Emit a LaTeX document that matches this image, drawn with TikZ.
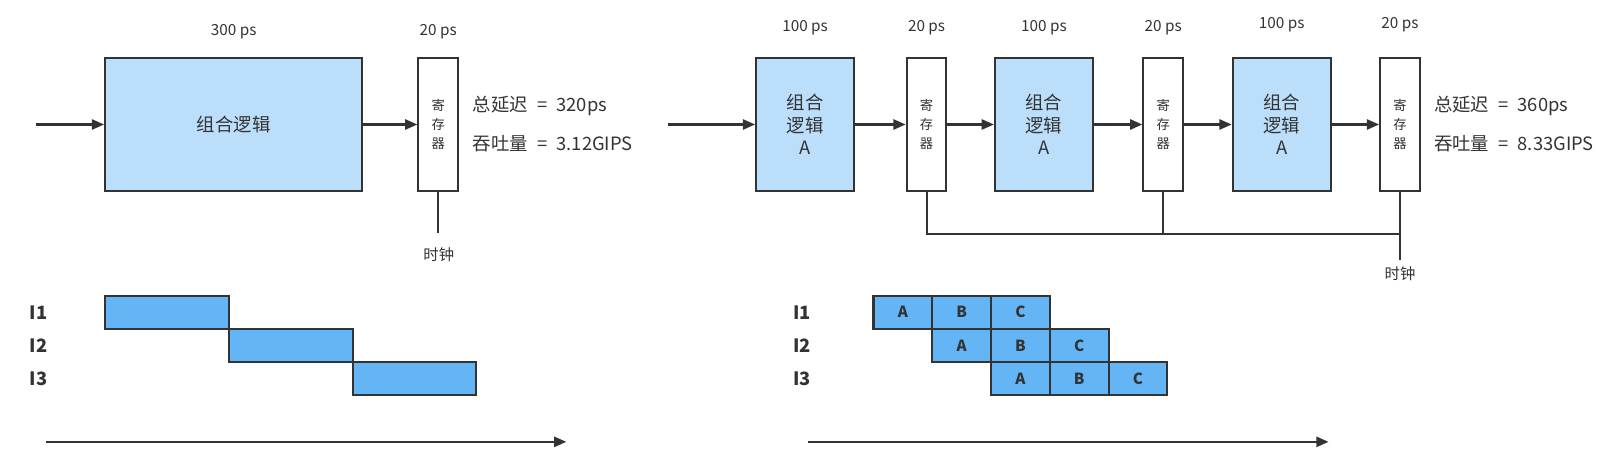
\documentclass[tikz,border=0pt]{standalone}
\usepackage{fontspec}
\setmainfont{Noto Sans CJK SC}
\usetikzlibrary{positioning, arrows.meta, calc}
\definecolor{linegray}{HTML}{333333}
\definecolor{logicblue}{HTML}{BBDEFB}
\definecolor{stageblue}{HTML}{64B5F6}
\tikzset{
  logic/.style={draw=linegray, fill=logicblue, line width=1pt, inner sep=0pt,
                minimum height=65pt, align=center, text=linegray,
                font=\fontsize{9}{11}\selectfont},
  reg/.style={draw=linegray, fill=white, line width=1pt, inner sep=0pt,
              minimum width=19.5pt, minimum height=65pt, align=center, text=linegray,
              font=\fontsize{6.5}{9.25}\selectfont},
  flow/.style={draw=linegray, line width=1pt, -{Triangle[length=6pt, width=5pt]}},
  wire/.style={draw=linegray, line width=1pt},
  lbl/.style={font=\fontsize{7.5}{8}\selectfont, text=linegray},
  stat/.style={font=\fontsize{9}{10}\selectfont, text=linegray, anchor=west, inner xsep=0pt},
  instr/.style={font=\bfseries\fontsize{9}{10}\selectfont, text=linegray},
  stage/.style={draw=linegray, fill=stageblue, line width=1pt, inner sep=0pt,
                minimum height=16.25pt, text=linegray,
                font=\bfseries\fontsize{7.5}{9}\selectfont},
}

\begin{document}
\begin{tikzpicture}[x=0.5pt, y=-0.5pt]
    \useasboundingbox (0,0) rectangle (1568,457);

    % single cycle
    \coordinate (in1) at (35,122);
    \node[logic, minimum width=126pt] (logic) at (229,122) {组合逻辑};
    \node[reg] (reg) at (429.5,122) {寄\\存\\器};
    \draw[flow] (in1) -- (logic);
    \draw[flow] (logic) -- (reg);
    \node[lbl] (tlogic) at (229,31) {300 ps};
    \node[lbl] (treg) at (429.5,31) {20 ps};
    \coordinate (clk) at (429.5,228);
    \draw[wire] (reg.south) -- (clk);
    \node[lbl] (clklbl) at (430,250) {时钟};
    \node[stat] (delay) at (463,104) {总延迟\enspace=\enspace320ps};
    \node[stat] (tput) at (463,141) {吞吐量\enspace=\enspace3.12GIPS};

    \foreach \i in {1,2,3} {
      \node[instr] (ia\i) at (38,{306+32.5*(\i-1)}) {I\i};
      \node[stage, minimum width=60.65pt] (ta\i) at ({103+121.3*(\i-0.5)},{306+32.5*(\i-1)}) {};
    }
    \coordinate (ta0) at (45,433);
    \coordinate (ta9) at (555,433);
    \draw[flow] (ta0) -- (ta9);

    % three stage pipeline
    \coordinate (in2) at (655,122);
    \foreach \n/\lx/\rx/\ty in {1/789/908/27, 2/1023/1140/27, 3/1256/1372/24} {
      \node[logic, minimum width=48pt] (la\n) at (\lx,122) {组合\\逻辑\\A};
      \node[reg] (ra\n) at (\rx,122) {寄\\存\\器};
      \node[lbl] (tla\n) at (\lx,\ty) {100 ps};
      \node[lbl] (tra\n) at (\rx,\ty) {20 ps};
      \draw[flow] (la\n) -- (ra\n);
    }
    \draw[flow] (in2) -- (la1);
    \draw[flow] (ra1) -- (la2);
    \draw[flow] (ra2) -- (la3);

    \coordinate (bus) at (1372,229);
    \coordinate (clk2) at (1372,255);
    \draw[wire] (ra1.south) |- (bus);
    \draw[wire] (ra2.south) -- (ra2.south |- bus);
    \draw[wire] (ra3.south) -- (clk2);
    \node[lbl] (clklbl2) at (1372,268) {时钟};
    \node[stat] (delay2) at (1405,104) {总延迟\enspace=\enspace360ps};
    \node[stat] (tput2) at (1405,141) {吞吐量\enspace=\enspace8.33GIPS};

    \foreach \r in {1,2,3} {
      \node[instr] (ib\r) at (786,{306+32.5*(\r-1)}) {I\r};
      \foreach \c/\s in {1/A, 2/B, 3/C}
        \node[stage, minimum width=28.8pt] (tb\r\s) at ({856+57.6*(\r+\c-1.5)},{306+32.5*(\r-1)}) {\s};
    }
    \coordinate (tb0) at (792,433);
    \coordinate (tb9) at (1302,433);
    \draw[flow] (tb0) -- (tb9);
  \end{tikzpicture}
\end{document}
